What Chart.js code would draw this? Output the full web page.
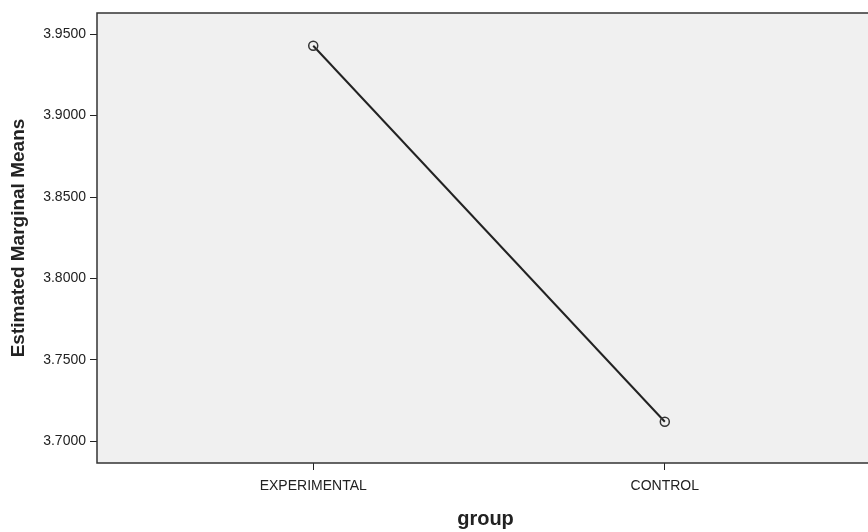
<!DOCTYPE html>
<html>
<head>
<meta charset="utf-8">
<script src="https://cdn.jsdelivr.net/npm/chart.js@4"></script>
<style>
  html, body { margin: 0; padding: 0; background: #fff; overflow: hidden; }
</style>
</head>
<body>
<canvas id="chart1" width="880" height="532"></canvas>
<script>
var groups = ['EXPERIMENTAL', 'CONTROL'];
var means = [3.9428, 3.7121];
var yTicks = [3.70, 3.75, 3.80, 3.85, 3.90, 3.95];

var fam = "'Liberation Sans', Arial, sans-serif";
var ink = '#222';

// grey plot area + frame, like the SPSS profile plot
var plotFrame = {
    id: 'plotFrame',
    beforeDraw: function (chart) {
        var a = chart.chartArea, ctx = chart.ctx;
        ctx.save();
        ctx.fillStyle = '#f0f0f0';
        ctx.fillRect(a.left, a.top, a.right - a.left, a.bottom - a.top);
        ctx.restore();
    },
    beforeDatasetsDraw: function (chart) {
        var a = chart.chartArea, ctx = chart.ctx;
        ctx.save();
        ctx.strokeStyle = '#333';
        ctx.lineWidth = 1.5;
        ctx.strokeRect(a.left, a.top, a.right - a.left, a.bottom - a.top);
        ctx.restore();
    }
};

chart1Ctx = document.querySelector('canvas#chart1').getContext('2d');

chart1 = new Chart(chart1Ctx, {
    type: 'line',
    data: {
        datasets: [{
            label: 'means',
            data: means.map(function (v, i) { return { x: i, y: v }; }),
            borderColor: ink,
            borderWidth: 2,
            tension: 0,
            pointStyle: 'circle',
            pointRadius: 4.5,
            pointBackgroundColor: 'rgba(0,0,0,0)',
            pointBorderColor: '#333',
            pointBorderWidth: 1.5
        }]
    },
    plugins: [plotFrame],
    options: {
        responsive: false,
        animation: false,
        layout: { padding: { top: 13, left: 0, right: 0, bottom: 0 } },
        plugins: {
            legend: { display: false },
            tooltip: { enabled: false }
        },
        scales: {
            x: {
                type: 'linear',
                min: -0.615,
                max: 1.595,
                border: { display: false },
                grid: { drawOnChartArea: false, drawTicks: true, tickLength: 7, color: ink, lineWidth: 1 },
                afterBuildTicks: function (s) {
                    s.ticks = groups.map(function (g, i) { return { value: i }; });
                },
                afterFit: function (s) {
                    s.height = 69;
                    s.paddingLeft = 0;
                    s.paddingRight = 0;
                },
                ticks: {
                    color: ink,
                    font: { family: fam, size: 14 },
                    padding: 8,
                    maxRotation: 0,
                    autoSkip: false,
                    callback: function (v) { return groups[v]; }
                },
                title: {
                    display: true,
                    text: 'group',
                    color: ink,
                    font: { family: fam, size: 20, weight: 'bold' },
                    padding: { top: 0, bottom: 1 }
                }
            },
            y: {
                min: 3.6868,
                max: 3.9629,
                border: { display: false },
                grid: { drawOnChartArea: false, drawTicks: true, tickLength: 7, color: ink, lineWidth: 1 },
                afterBuildTicks: function (s) {
                    s.ticks = yTicks.map(function (t) { return { value: t }; });
                },
                afterFit: function (s) {
                    s.width = 97;
                    s.paddingTop = 0;
                    s.paddingBottom = 0;
                },
                ticks: {
                    color: ink,
                    font: { family: fam, size: 14 },
                    padding: 4,
                    callback: function (v) { return Number(v).toFixed(4); }
                },
                title: {
                    display: true,
                    text: 'Estimated Marginal Means',
                    color: ink,
                    font: { family: fam, size: 19, weight: 'bold' },
                    padding: { top: 7, bottom: 0 }
                }
            }
        }
    }
});
</script>
</body>
</html>
